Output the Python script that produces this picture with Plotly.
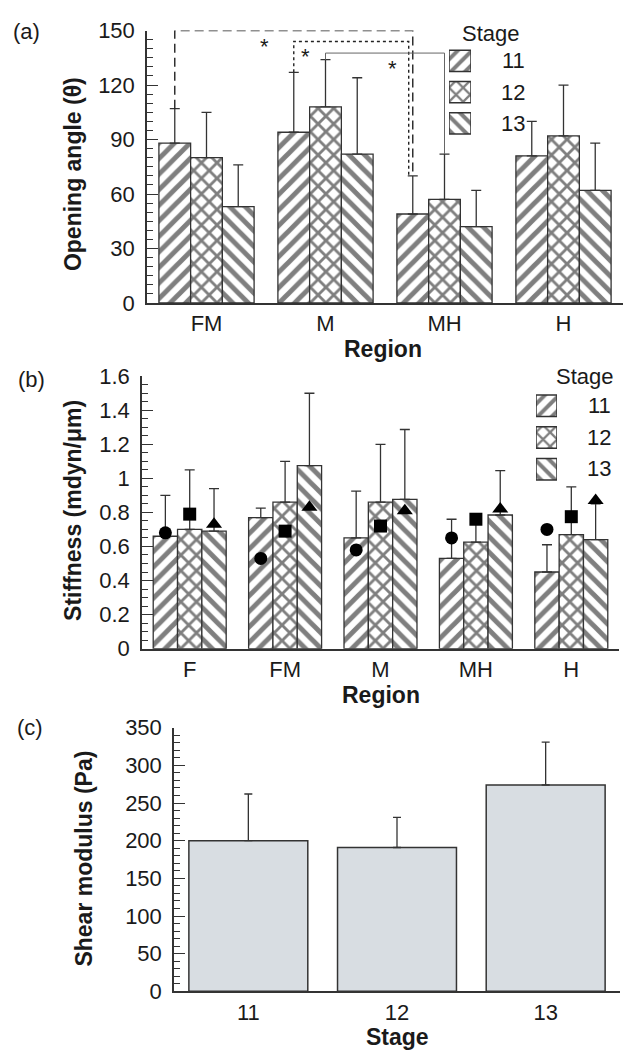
import plotly.graph_objects as go

W, H = 623, 1061
FONT = "Liberation Sans, Arial, sans-serif"
TXT = "#1a1a1a"
LINE = "#333333"

# ---------------- data ----------------
stages = ["11", "12", "13"]

regions_a = ["FM", "M", "MH", "H"]
angle_11 = [88, 94, 49, 81]
angle_12 = [80, 108, 57, 92]
angle_13 = [53, 82, 42, 62]
angle_err_11 = [19, 33, 21, 19]
angle_err_12 = [25, 26, 25, 28]
angle_err_13 = [23, 42, 20, 26]

regions_b = ["F", "FM", "M", "MH", "H"]
stiff_11 = [0.66, 0.77, 0.65, 0.53, 0.45]
stiff_12 = [0.70, 0.86, 0.86, 0.625, 0.67]
stiff_13 = [0.69, 1.075, 0.877, 0.785, 0.64]
stiff_err_11 = [0.24, 0.055, 0.275, 0.23, 0.16]
stiff_err_12 = [0.35, 0.24, 0.34, 0.125, 0.28]
stiff_err_13 = [0.25, 0.425, 0.41, 0.26, 0.21]
model_11 = [0.68, 0.53, 0.58, 0.65, 0.70]   # filled circles
model_12 = [0.79, 0.69, 0.72, 0.76, 0.775]  # filled squares
model_13 = [0.73, 0.83, 0.81, 0.82, 0.87]   # filled triangles

shear_stages = ["11", "12", "13"]
shear = [200, 191, 274]
shear_err = [62, 40, 57]

# significance brackets in (a): (stage index, region a, region b, level, dash, colour, width, shift)
sig_brackets = [
    (0, 0, 2, 150, "9px,5px", "#222222", 1.4, 0.0),
    (0, 1, 2, 144, "3px,3px", "#222222", 1.4, -0.034),
    (1, 1, 2, 137.6, "solid", "#666666", 1.0, 0.0),
]
sig_stars = [(0.49, 150), (0.836, 144), (1.567, 137.6)]

patterns = ["/", "x", "\\"]
markers = ["circle", "square", "triangle-up"]


def px_x(p):
    return p / W


def px_y(p):
    return 1 - p / H


fig = go.Figure()

PAT_SIZE = 11
PAT_SOL = 0.45

# ---------------- panel (a) ----------------
bw_a = 0.8 / 3
vals_a = [angle_11, angle_12, angle_13]
errs_a = [angle_err_11, angle_err_12, angle_err_13]
for s in range(3):
    xs = [i + (s - 1) * bw_a for i in range(len(regions_a))]
    fig.add_trace(go.Bar(
        x=xs, y=vals_a[s], width=bw_a, xaxis="x", yaxis="y",
        marker=dict(color="white", line=dict(color=LINE, width=1.3),
                    pattern=dict(shape=patterns[s], fgcolor="black", bgcolor="white",
                                 size=PAT_SIZE, solidity=PAT_SOL, fillmode="overlay")),
        error_y=dict(type="data", symmetric=False, array=errs_a[s],
                     arrayminus=[0] * len(regions_a), color=LINE, thickness=1.3, width=5),
        name=stages[s], showlegend=False,
    ))

shapes = []
for (s, ga, gb, lvl, dash, col, lw, dx) in sig_brackets:
    xa = ga + (s - 1) * bw_a
    xb = gb + (s - 1) * bw_a + dx
    ya = vals_a[s][ga] + errs_a[s][ga]
    yb = vals_a[s][gb] + errs_a[s][gb]
    shapes.append(dict(type="path", xref="x", yref="y", layer="above",
                       path=f"M {xa},{ya} L {xa},{lvl} L {xb},{lvl} L {xb},{yb}",
                       line=dict(color=col, width=lw, dash=dash)))

# ---------------- panel (b) ----------------
bw_b = 0.765 / 3
vals_b = [stiff_11, stiff_12, stiff_13]
errs_b = [stiff_err_11, stiff_err_12, stiff_err_13]
mods_b = [model_11, model_12, model_13]
for s in range(3):
    xs = [i + (s - 1) * bw_b for i in range(len(regions_b))]
    fig.add_trace(go.Bar(
        x=xs, y=vals_b[s], width=bw_b, xaxis="x2", yaxis="y2",
        marker=dict(color="white", line=dict(color=LINE, width=1.3),
                    pattern=dict(shape=patterns[s], fgcolor="black", bgcolor="white",
                                 size=PAT_SIZE, solidity=PAT_SOL, fillmode="overlay")),
        error_y=dict(type="data", symmetric=False, array=errs_b[s],
                     arrayminus=[0] * len(regions_b), color=LINE, thickness=1.3, width=5),
        showlegend=False,
    ))
for s in range(3):
    xs = [i + (s - 1) * bw_b for i in range(len(regions_b))]
    fig.add_trace(go.Scatter(
        x=xs, y=mods_b[s], mode="markers", xaxis="x2", yaxis="y2",
        marker=dict(symbol=markers[s], color="black", size=14 if s == 2 else 13,
                    line=dict(width=0)),
        showlegend=False, cliponaxis=False,
    ))

# ---------------- panel (c) ----------------
fig.add_trace(go.Bar(
    x=list(range(len(shear_stages))), y=shear, width=0.8, xaxis="x3", yaxis="y3",
    marker=dict(color="#d8dde2", line=dict(color=LINE, width=1.5)),
    error_y=dict(type="data", symmetric=False, array=shear_err,
                 arrayminus=[0] * len(shear), color=LINE, thickness=1.3, width=4),
    showlegend=False,
))

# ---------------- legend swatches ----------------
for ax in ("4", "5"):
    fig.add_trace(go.Bar(
        x=[1, 1, 1], y=[0, 1, 2], orientation="h", width=0.68,
        xaxis="x" + ax, yaxis="y" + ax,
        marker=dict(color="white", line=dict(color=LINE, width=1.5),
                    pattern=dict(shape=patterns, fgcolor="black", bgcolor="white",
                                 size=10, solidity=0.4, fillmode="overlay")),
        showlegend=False, hoverinfo="skip",
    ))

tickfont = dict(family=FONT, size=22, color=TXT)


def yax(domain, rng, dtick, minor, anchor):
    return dict(domain=domain, range=rng, dtick=dtick, tick0=0, ticks="inside",
                ticklen=11, tickwidth=1.3, tickcolor=LINE, showline=True,
                linecolor=LINE, linewidth=1.5, showgrid=False, zeroline=False,
                tickfont=tickfont, ticklabelstandoff=6, anchor=anchor,
                minor=dict(dtick=minor, tick0=0, ticks="inside", ticklen=6,
                           tickwidth=1, tickcolor=LINE, showgrid=False))


def xax(domain, n, labels, anchor):
    return dict(domain=domain, range=[-0.5, n - 0.5], tickvals=list(range(n)),
                ticktext=labels, ticks="", showline=True, linecolor=LINE,
                linewidth=1.5, showgrid=False, zeroline=False, tickfont=tickfont,
                anchor=anchor, ticklabelstandoff=0)


annotations = []


def ann(text, x, y, size=22, bold=False, angle=0, xanchor="center"):
    annotations.append(dict(
        text=f"<b>{text}</b>" if bold else text, x=px_x(x), y=px_y(y),
        xref="paper", yref="paper", showarrow=False, textangle=angle,
        xanchor=xanchor, yanchor="middle",
        font=dict(family=FONT, size=size, color=TXT)))


# panel labels
ann("(a)", 27, 20)
ann("(b)", 31, 376)
ann("(c)", 30, 733)
# axis titles
ann("Opening angle (θ)", 73, 166, size=23, bold=True, angle=-90)
ann("Region", 383, 345, size=23, bold=True)
ann("Stiffness (mdyn/μm)", 73, 511, size=23, bold=True, angle=-90)
ann("Region", 381, 699, size=23, bold=True)
ann("Shear modulus (Pa)", 84, 867, size=23, bold=True, angle=-90)
ann("Stage", 397, 1050, size=23, bold=True)
# legends
ann("Stage", 491, 22)
for i, st in enumerate(stages):
    ann(st, 513, 50 + 32 * i)
ann("Stage", 585, 373)
for i, st in enumerate(stages):
    ann(st, 599, 403 + 32.5 * i)
# significance stars
for (sx, sy) in sig_stars:
    annotations.append(dict(text="*", x=sx, y=sy, xref="x", yref="y", showarrow=False,
                            xanchor="center", yanchor="top", yshift=-1,
                            font=dict(family=FONT, size=22, color=TXT)))

fig.update_layout(
    width=W, height=H, margin=dict(l=0, r=0, t=0, b=0),
    paper_bgcolor="white", plot_bgcolor="white", barmode="overlay",
    showlegend=False, font=dict(family=FONT, color=TXT),
    xaxis=xax([px_x(147), 1.0], 4, regions_a, "y"),
    yaxis=yax([px_y(298), px_y(19)], [0, 150], 30, 5, "x"),
    xaxis2=xax([px_x(142), px_x(619)], 5, regions_b, "y2"),
    yaxis2=yax([px_y(652), px_y(373)], [0, 1.6], 0.2, 0.05, "x2"),
    xaxis3=xax([px_x(174), px_x(620)], 3, shear_stages, "y3"),
    yaxis3=yax([px_y(1003), px_y(733)], [0, 350], 50, 10, "x3"),
    xaxis4=dict(domain=[px_x(449), px_x(471)], range=[0, 1], visible=False, anchor="y4"),
    yaxis4=dict(domain=[px_y(130), px_y(34)], range=[2.5, -0.5], visible=False, anchor="x4"),
    xaxis5=dict(domain=[px_x(536), px_x(557)], range=[0, 1], visible=False, anchor="y5"),
    yaxis5=dict(domain=[px_y(484.5), px_y(387)], range=[2.5, -0.5], visible=False, anchor="x5"),
    shapes=shapes, annotations=annotations,
)

fig.write_html(
    "out.html",
    config={"displayModeBar": False},
    post_script="document.body.style.margin='0';document.body.style.overflow='hidden';",
)
